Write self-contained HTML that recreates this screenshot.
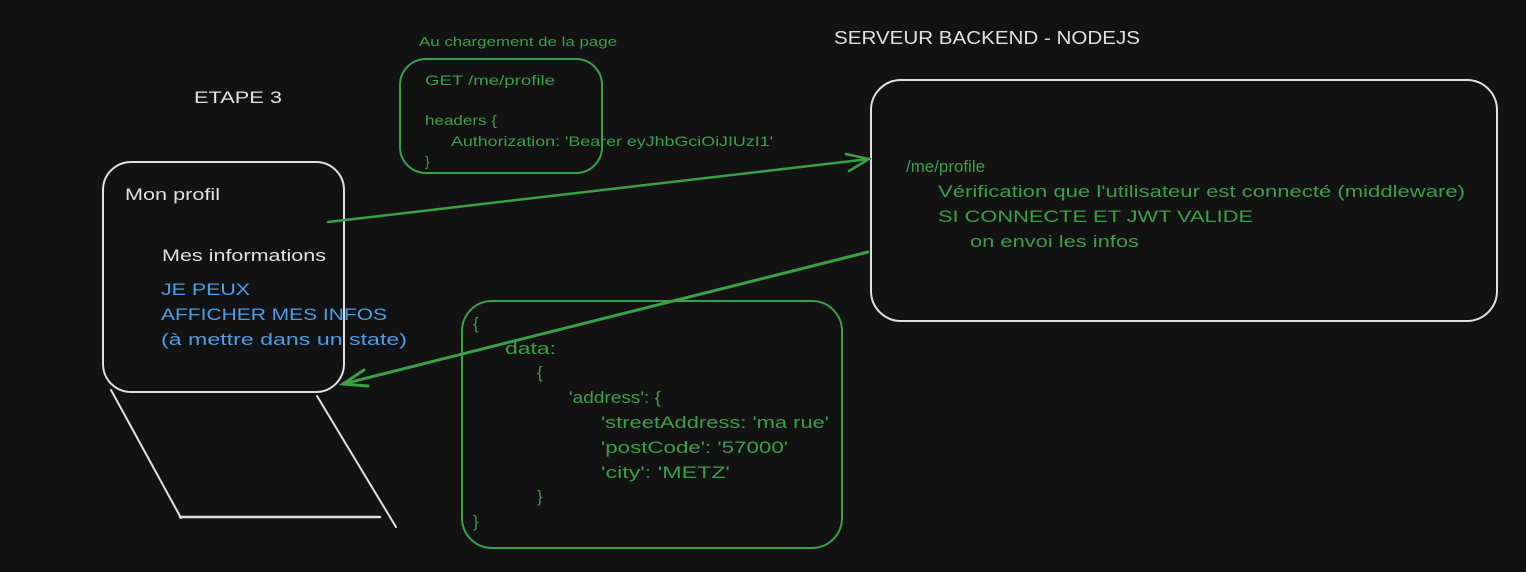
<!DOCTYPE html>
<html><head><meta charset="utf-8"><style>
html,body{margin:0;padding:0;background:#121212;}
svg{display:block}
text{font-family:"Liberation Sans",sans-serif;}
</style></head><body>
<svg width="1526" height="572" viewBox="0 0 1526 572" xmlns="http://www.w3.org/2000/svg">
<rect width="1526" height="572" fill="#121212"/>
<g fill="none" stroke-linecap="round">
<rect x="103" y="162" width="241" height="230" rx="28" stroke="#e0e0e0" stroke-width="2"/>
<line x1="111" y1="390" x2="181" y2="518" stroke="#e0e0e0" stroke-width="2"/>
<line x1="180" y1="517" x2="380" y2="517" stroke="#e0e0e0" stroke-width="2.5"/>
<line x1="317" y1="396" x2="396" y2="527" stroke="#e0e0e0" stroke-width="2"/>
<rect x="400" y="59" width="202" height="114" rx="26" stroke="#3aa048" stroke-width="2"/>
<rect x="871" y="80" width="626" height="241" rx="30" stroke="#e0e0e0" stroke-width="2"/>
<rect x="462" y="301" width="380" height="247" rx="30" stroke="#3aa048" stroke-width="2"/>
<line x1="328" y1="222" x2="869" y2="159" stroke="#3aa048" stroke-width="2.5"/>
<polyline points="846,154 869,159 849,171" stroke="#3aa048" stroke-width="2.5"/>
<line x1="868" y1="252" x2="343" y2="384" stroke="#3aa048" stroke-width="3"/>
<polyline points="364,370 343,384 368,386" stroke="#3aa048" stroke-width="3"/>
</g>
<g fill="#3aa048" font-size="14" lengthAdjust="spacingAndGlyphs">
<text x="419" y="46" font-size="13" textLength="198" lengthAdjust="spacingAndGlyphs">Au chargement de la page</text>
<text x="425" y="85" textLength="130" lengthAdjust="spacingAndGlyphs">GET /me/profile</text>
<text x="425" y="125" textLength="72" lengthAdjust="spacingAndGlyphs">headers {</text>
<text x="451" y="146" textLength="322" lengthAdjust="spacingAndGlyphs">Authorization: 'Bearer eyJhbGciOiJIUzI1'</text>
<text x="425" y="166">}</text>
</g>
<g fill="#3aa048" font-size="17">
<text x="906" y="172" textLength="79" lengthAdjust="spacingAndGlyphs">/me/profile</text>
<text x="938" y="197" textLength="527" lengthAdjust="spacingAndGlyphs">Vérification que l'utilisateur est connecté (middleware)</text>
<text x="938" y="222" textLength="315" lengthAdjust="spacingAndGlyphs">SI CONNECTE ET JWT VALIDE</text>
<text x="970" y="247" textLength="169" lengthAdjust="spacingAndGlyphs">on envoi les infos</text>
<text x="473" y="329">{</text>
<text x="505" y="354" textLength="51" lengthAdjust="spacingAndGlyphs">data:</text>
<text x="537" y="378">{</text>
<text x="569" y="403" textLength="92" lengthAdjust="spacingAndGlyphs">'address': {</text>
<text x="601" y="428" textLength="228" lengthAdjust="spacingAndGlyphs">'streetAddress: 'ma rue'</text>
<text x="601" y="453" textLength="187" lengthAdjust="spacingAndGlyphs">'postCode': '57000'</text>
<text x="601" y="478" textLength="129" lengthAdjust="spacingAndGlyphs">'city': 'METZ'</text>
<text x="537" y="502">}</text>
<text x="473" y="527">}</text>
</g>
<g fill="#e0e0e0" font-size="17">
<text x="194" y="103" textLength="88" lengthAdjust="spacingAndGlyphs">ETAPE 3</text>
<text x="834" y="44" font-size="18" textLength="306" lengthAdjust="spacingAndGlyphs">SERVEUR BACKEND - NODEJS</text>
<text x="125" y="200" textLength="95" lengthAdjust="spacingAndGlyphs">Mon profil</text>
<text x="162" y="261" textLength="164" lengthAdjust="spacingAndGlyphs">Mes informations</text>
</g>
<g fill="#4a9ee8" font-size="17">
<text x="161" y="295" textLength="89" lengthAdjust="spacingAndGlyphs">JE PEUX</text>
<text x="161" y="320" textLength="226" lengthAdjust="spacingAndGlyphs">AFFICHER MES INFOS</text>
<text x="161" y="345" textLength="246" lengthAdjust="spacingAndGlyphs">(à mettre dans un state)</text>
</g>
</svg>
</body></html>
